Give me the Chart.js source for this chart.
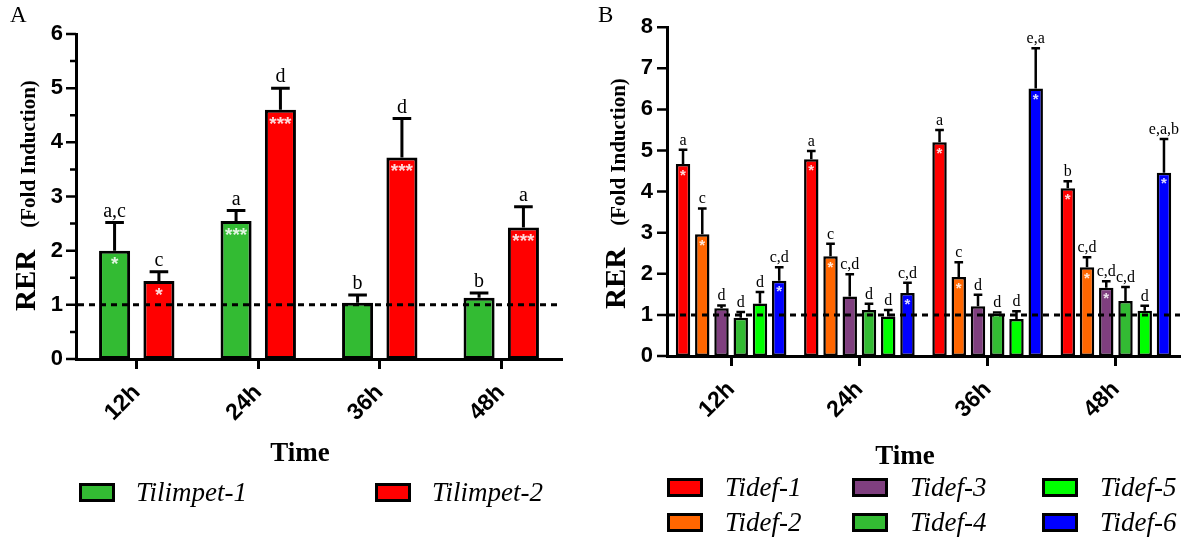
<!DOCTYPE html>
<html>
<head>
<meta charset="utf-8">
<title>RER fold induction</title>
<script src="https://cdn.jsdelivr.net/npm/chart.js@4.4.1/dist/chart.umd.min.js"></script>
<style>
  html, body { margin: 0; padding: 0; background: #fff; }
  #wrap { position: relative; width: 1193px; height: 545px; overflow: hidden; font-family: "Liberation Serif", "Times New Roman", serif; color: #000; }
  canvas { position: absolute; top: 0; }
  #chartA { left: 0; }
  #chartB { left: 590px; }
  .panel { position: absolute; top: 3px; font-size: 23px; line-height: 23px; }
  .time { position: absolute; font-weight: bold; font-size: 27px; line-height: 27px; transform: translateX(-50%); }
  .leg { position: absolute; height: 30px; display: flex; align-items: center; font-style: italic; font-size: 27px; white-space: nowrap; }
  .leg .box { width: 30px; height: 13px; border: 3px solid #000; }
</style>
</head>
<body>
<div id="wrap">
  <canvas id="chartA" width="590" height="545"></canvas>
  <canvas id="chartB" width="603" height="545"></canvas>
  <div class="panel" style="left:10px">A</div>
  <div class="panel" style="left:598px">B</div>
  <div class="time" style="left:300px; top:439px">Time</div>
  <div class="time" style="left:905px; top:442px">Time</div>
  <div id="legendA"></div>
  <div id="legendB"></div>
</div>
<script>
// categories
const times = ['12h', '24h', '36h', '48h'];

// panel A values (bar height, upper error)
const tilimpet1 = [2.0, 2.55, 1.04, 1.13];
const tilimpet1Err = [0.52, 0.19, 0.14, 0.09];
const tilimpet1Letters = ['a,c', 'a', 'b', 'b'];
const tilimpet1Stars = ['*', '***', '', ''];

const tilimpet2 = [1.44, 4.6, 3.72, 2.43];
const tilimpet2Err = [0.17, 0.4, 0.72, 0.38];
const tilimpet2Letters = ['c', 'd', 'd', 'a'];
const tilimpet2Stars = ['*', '***', '***', '***'];

// panel B values
const tidef1 = [4.67, 4.79, 5.2, 4.08];
const tidef1Err = [0.35, 0.2, 0.3, 0.17];
const tidef1Letters = ['a', 'a', 'a', 'b'];
const tidef1Stars = ['*', '*', '*', '*'];

const tidef2 = [2.96, 2.43, 1.92, 2.16];
const tidef2Err = [0.63, 0.3, 0.36, 0.24];
const tidef2Letters = ['c', 'c', 'c', 'c,d'];
const tidef2Stars = ['*', '*', '*', '*'];

const tidef3 = [1.16, 1.45, 1.21, 1.66];
const tidef3Err = [0.07, 0.54, 0.28, 0.16];
const tidef3Letters = ['d', 'c,d', 'd', 'c,d'];
const tidef3Stars = ['', '', '', '*'];

const tidef4 = [0.93, 1.12, 1.03, 1.34];
const tidef4Err = [0.14, 0.15, 0.03, 0.34];
const tidef4Letters = ['d', 'd', 'd', 'c,d'];
const tidef4Stars = ['', '', '', ''];

const tidef5 = [1.28, 0.96, 0.9, 1.1];
const tidef5Err = [0.28, 0.16, 0.19, 0.12];
const tidef5Letters = ['d', 'd', 'd', 'd'];
const tidef5Stars = ['', '', '', ''];

const tidef6 = [1.83, 1.53, 6.51, 4.46];
const tidef6Err = [0.33, 0.25, 0.98, 0.82];
const tidef6Letters = ['c,d', 'c,d', 'e,a', 'e,a,b'];
const tidef6Stars = ['*', '*', '*', '*'];

const RED = '#ff0000';
const ORANGE = '#ff6600';
const PURPLE = '#7f3f7f';
const GREEN = '#33bb33';
const LIME = '#00ff00';
const BLUE = '#0000ff';

// error bars, letters, stars, dashed y=1 line, y ticks and y title
const barExtras = {
  id: 'barExtras',
  afterDatasetsDraw(chart, args, opts) {
    const ctx = chart.ctx;
    const ys = chart.scales.y;
    const area = chart.chartArea;
    ctx.save();
    chart.data.datasets.forEach((ds, i) => {
      const meta = chart.getDatasetMeta(i);
      meta.data.forEach((bar, j) => {
        const topY = bar.y;
        const errY = ys.getPixelForValue(ds.data[j] + ds.errors[j]);
        const cap = bar.width * opts.capFraction / 2;
        ctx.strokeStyle = '#000';
        ctx.lineWidth = opts.errorWidth;
        ctx.beginPath();
        ctx.moveTo(bar.x, topY);
        ctx.lineTo(bar.x, errY);
        ctx.moveTo(bar.x - cap, errY);
        ctx.lineTo(bar.x + cap, errY);
        ctx.stroke();

        ctx.fillStyle = '#000';
        ctx.font = opts.letterFont;
        ctx.textAlign = 'center';
        ctx.textBaseline = 'alphabetic';
        ctx.fillText(ds.letters[j], bar.x, errY - opts.letterGap);

        if (ds.stars[j]) {
          ctx.fillStyle = 'rgba(255,255,255,0.85)';
          ctx.font = opts.starFont;
          ctx.textBaseline = 'top';
          ctx.fillText(ds.stars[j], bar.x, topY + opts.starOffset);
        }
      });
    });
    // reference line at fold induction = 1
    const y1 = ys.getPixelForValue(1);
    ctx.strokeStyle = '#000';
    ctx.lineWidth = 3;
    ctx.setLineDash([6, 5]);
    ctx.beginPath();
    ctx.moveTo(area.left + 2, y1);
    ctx.lineTo(area.right, y1);
    ctx.stroke();
    ctx.restore();
  },
  afterDraw(chart, args, opts) {
    const ctx = chart.ctx;
    const ys = chart.scales.y;
    const area = chart.chartArea;
    ctx.save();
    ctx.strokeStyle = '#000';
    ctx.lineWidth = 2.5;
    ctx.beginPath();
    for (let v = ys.min; v <= ys.max + 1e-9; v += opts.minorStep) {
      const py = ys.getPixelForValue(v);
      const len = Number.isInteger(v) ? 10 : 6;
      ctx.moveTo(area.left, py);
      ctx.lineTo(area.left - len, py);
    }
    ctx.stroke();

    // y title: "RER  (Fold Induction)"
    ctx.translate(opts.titleX, opts.titleBottom);
    ctx.rotate(-Math.PI / 2);
    ctx.fillStyle = '#000';
    ctx.textAlign = 'left';
    ctx.textBaseline = 'alphabetic';
    ctx.font = 'bold 29px "Liberation Serif"';
    ctx.fillText('RER', 0, 0);
    const w = ctx.measureText('RER').width;
    ctx.font = 'bold 21px "Liberation Serif"';
    ctx.fillText('(Fold Induction)', w + opts.titleGap, 0);
    ctx.restore();
  }
};

function makeDataset(label, data, errors, letters, stars, color, border) {
  return {
    label: label,
    data: data,
    errors: errors,
    letters: letters,
    stars: stars,
    backgroundColor: color,
    borderColor: '#000',
    borderWidth: border,
    borderSkipped: false
  };
}

function makeOptions(cfg) {
  return {
    responsive: false,
    animation: false,
    layout: { padding: cfg.padding },
    plugins: {
      legend: { display: false },
      tooltip: { enabled: false },
      barExtras: cfg.extras
    },
    datasets: {
      bar: { categoryPercentage: cfg.categoryPercentage, barPercentage: cfg.barPercentage }
    },
    scales: {
      x: {
        offset: true,
        grid: { display: true, drawOnChartArea: false, drawTicks: true, tickLength: 10, tickWidth: 3, tickColor: '#000', offset: false },
        border: { display: true, color: '#000', width: 3 },
        ticks: {
          color: '#000',
          font: { family: 'Liberation Sans', weight: 'bold', size: 23 },
          minRotation: 45,
          maxRotation: 45,
          padding: 10
        },
        afterFit: s => { s.height = cfg.xHeight; }
      },
      y: {
        min: 0,
        max: cfg.yMax,
        grid: { display: false, drawTicks: false },
        border: { display: true, color: '#000', width: 3 },
        ticks: {
          stepSize: 1,
          color: '#000',
          font: { family: 'Liberation Sans', weight: 'bold', size: 22 },
          padding: cfg.labelPad
        },
        afterFit: s => { s.width = cfg.yWidth; }
      }
    }
  };
}

Chart.register(barExtras);

new Chart(document.getElementById('chartA'), {
  type: 'bar',
  data: {
    labels: times,
    datasets: [
      makeDataset('Tilimpet-1', tilimpet1, tilimpet1Err, tilimpet1Letters, tilimpet1Stars, GREEN, 3),
      makeDataset('Tilimpet-2', tilimpet2, tilimpet2Err, tilimpet2Letters, tilimpet2Stars, RED, 3)
    ]
  },
  options: makeOptions({
    padding: { left: 0, top: 34, right: 28, bottom: 0 },
    categoryPercentage: 0.73,
    barPercentage: 0.7,
    xHeight: 186,
    yWidth: 76,
    yMax: 6,
    labelPad: 13,
    extras: {
      capFraction: 0.6, errorWidth: 3, letterGap: 6, letterFont: '20px "Liberation Serif"',
      starFont: 'bold 19px "Liberation Sans"', starOffset: 5, minorStep: 0.5,
      titleX: 35, titleBottom: 311, titleGap: 22
    }
  })
});

new Chart(document.getElementById('chartB'), {
  type: 'bar',
  data: {
    labels: times,
    datasets: [
      makeDataset('Tidef-1', tidef1, tidef1Err, tidef1Letters, tidef1Stars, RED, 2.5),
      makeDataset('Tidef-2', tidef2, tidef2Err, tidef2Letters, tidef2Stars, ORANGE, 2.5),
      makeDataset('Tidef-3', tidef3, tidef3Err, tidef3Letters, tidef3Stars, PURPLE, 2.5),
      makeDataset('Tidef-4', tidef4, tidef4Err, tidef4Letters, tidef4Stars, GREEN, 2.5),
      makeDataset('Tidef-5', tidef5, tidef5Err, tidef5Letters, tidef5Stars, LIME, 2.5),
      makeDataset('Tidef-6', tidef6, tidef6Err, tidef6Letters, tidef6Stars, BLUE, 2.5)
    ]
  },
  options: makeOptions({
    padding: { left: 0, top: 15, right: 13, bottom: 0 },
    categoryPercentage: 0.9,
    barPercentage: 0.75,
    xHeight: 189,
    yWidth: 77,
    yMax: 8,
    labelPad: 14,
    extras: {
      capFraction: 0.6, errorWidth: 2.5, letterGap: 5, letterFont: '16px "Liberation Serif"',
      starFont: 'bold 15px "Liberation Sans"', starOffset: 4, minorStep: 1,
      titleX: 35, titleBottom: 309, titleGap: 22
    }
  })
});

// legends (HTML, positioned like the original figure)
function addLegend(containerId, items) {
  const holder = document.getElementById(containerId);
  items.forEach(it => {
    const d = document.createElement('div');
    d.className = 'leg';
    d.style.left = it.left + 'px';
    d.style.top = (it.cy - 15) + 'px';
    const box = document.createElement('span');
    box.className = 'box';
    box.style.background = it.color;
    box.style.marginRight = it.gap + 'px';
    const txt = document.createElement('span');
    txt.textContent = it.label;
    d.appendChild(box);
    d.appendChild(txt);
    holder.appendChild(d);
  });
}

addLegend('legendA', [
  { label: 'Tilimpet-1', color: GREEN, left: 79, cy: 492, gap: 21 },
  { label: 'Tilimpet-2', color: RED, left: 375, cy: 492, gap: 21 }
]);

addLegend('legendB', [
  { label: 'Tidef-1', color: RED, left: 667, cy: 487, gap: 22 },
  { label: 'Tidef-2', color: ORANGE, left: 667, cy: 522, gap: 22 },
  { label: 'Tidef-3', color: PURPLE, left: 852, cy: 487, gap: 22 },
  { label: 'Tidef-4', color: GREEN, left: 852, cy: 522, gap: 22 },
  { label: 'Tidef-5', color: LIME, left: 1042, cy: 487, gap: 22 },
  { label: 'Tidef-6', color: BLUE, left: 1042, cy: 522, gap: 22 }
]);
</script>
</body>
</html>
